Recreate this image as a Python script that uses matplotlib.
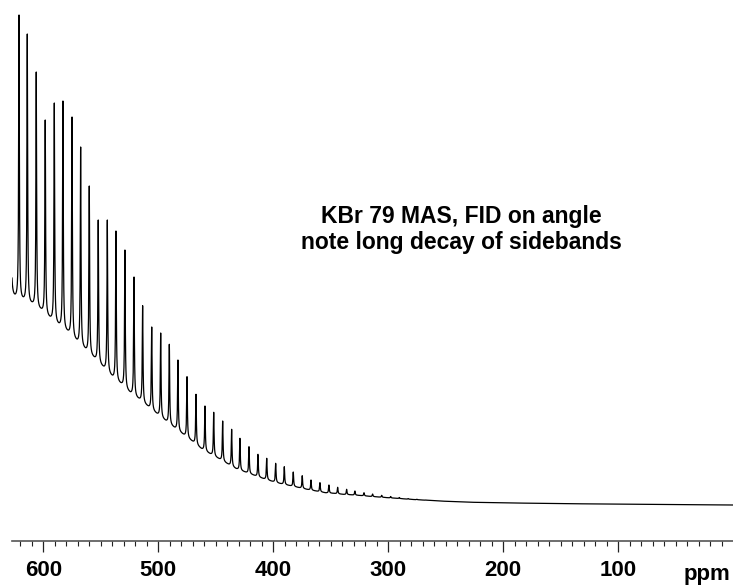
"""Recreates the 79Br MAS spectrum of KBr with its long train of spinning sidebands.

Functions
---------
lorentz
build_spectrum
plot
"""

import numpy as np
import matplotlib.pyplot as plt

# sideband positions (ppm) and apex intensities (a.u.);
# the first one sits just outside the left edge of the plot
peak_ppm = [628.8, 621.1, 613.9, 606.1, 598.3, 590.4, 582.9, 575.0, 567.5, 560.0,
            552.2, 544.3, 536.8, 529.0, 521.1, 513.6, 505.7, 497.9, 490.4, 482.9,
            475.0, 467.2, 459.4, 451.8, 444.0, 436.2, 429.0, 421.1, 413.3, 405.7,
            397.9, 390.4, 382.6, 374.8, 367.2, 359.4, 351.6, 344.0, 336.2, 329.0,
            321.1, 313.6, 305.7, 297.9, 290.4, 282.6, 275.0, 267.2]
peak_top = [690.0, 525.7, 506.7, 468.7, 420.7, 437.7, 439.7, 423.7, 393.7, 354.7,
            320.7, 320.7, 309.7, 290.7, 263.7, 235.0, 213.7, 207.7, 196.4, 180.7,
            164.0, 146.4, 134.7, 128.4, 119.7, 111.4, 102.4, 94.0, 86.4, 82.4,
            77.4, 74.0, 68.7, 65.0, 60.7, 58.0, 55.7, 53.4, 51.4, 49.7,
            48.0, 46.7, 45.4, 44.2, 43.2, 42.2, 41.4, 40.7]

# level of the trace in the troughs between sidebands (ppm, a.u.)
valley_ppm = [626.1, 617.4, 609.6, 602.0, 594.2, 586.3, 578.3, 570.4, 562.9, 555.0,
              547.2, 539.4, 531.6, 524.0, 516.5, 509.0, 501.1, 493.3, 485.5, 477.7,
              469.8, 462.3, 455.0, 447.2, 440.0, 432.4, 424.6, 416.8, 408.7, 401.4,
              394.2, 386.3, 378.3, 370.4, 362.3, 354.4, 346.9, 339.1, 331.6, 323.7,
              315.9, 308.1, 300.3, 292.4, 284.6, 276.8, 269.0, 261.2, 246.7, 220.6,
              159.7, 98.9, 0.3]
valley_level = [250.0, 244.0, 239.0, 232.7, 224.7, 218.0, 210.7, 201.7, 193.0, 184.0,
                174.7, 165.7, 158.2, 149.0, 142.7, 135.2, 127.7, 120.7, 113.7, 106.7,
                99.7, 92.4, 87.4, 82.4, 77.4, 72.4, 69.0, 65.7, 62.4, 59.7,
                57.4, 55.4, 53.4, 51.4, 49.7, 48.0, 47.4, 46.4, 45.9, 45.2,
                44.4, 43.7, 43.0, 42.4, 41.7, 41.1, 40.6, 40.1, 39.2, 38.2,
                37.2, 36.5, 35.7]

major_ticks = [600, 500, 400, 300, 200, 100]
title_lines = ["KBr 79 MAS, FID on angle", "note long decay of sidebands"]
x_range = (627.2, 0.26)
line_width_ppm = 0.35


def lorentz(x, x0, w):
    """Unit-height Lorentzian line."""
    return w ** 2 / ((x - x0) ** 2 + w ** 2)


def build_spectrum():
    """Fits sideband amplitudes and a baseline so the trace passes through the read points."""
    px = np.array(peak_ppm)
    vx = np.array(valley_ppm)
    order = np.argsort(vx)
    vx_sorted = vx[order]
    n_p, n_v = len(px), len(vx)

    def base_weights(points):
        # linear interpolation weights of the baseline nodes at the given points
        eye = np.eye(n_v)[order]
        return np.array([np.interp(points, vx_sorted, eye[:, j]) for j in range(n_v)]).T

    m = np.zeros((n_p + n_v, n_p + n_v))
    m[:n_p, :n_p] = lorentz(px[:, None], px[None, :], line_width_ppm)
    m[:n_p, n_p:] = base_weights(px)
    m[n_p:, :n_p] = lorentz(vx[:, None], px[None, :], line_width_ppm)
    m[n_p:, n_p:] = base_weights(vx)
    rhs = np.concatenate([peak_top, valley_level])
    sol = np.linalg.solve(m, rhs)
    amp, base = sol[:n_p], sol[n_p:]

    x = np.union1d(np.linspace(0, 630, 25001), px)
    y = base_weights(x) @ base + lorentz(x[:, None], px[None, :], line_width_ppm) @ amp
    return x, y


def plot():
    x, y = build_spectrum()

    fig = plt.figure(figsize=(7.33, 5.85), dpi=100)
    ax = fig.add_axes([12 / 733, 44.3 / 585, 1 - 12 / 733, 540.7 / 585])
    ax.plot(x, y, color="black", lw=0.9)
    ax.set_xlim(*x_range)
    ax.set_ylim(0, 540.7)

    for side in ["left", "right", "top"]:
        ax.spines[side].set_visible(False)
    ax.spines["bottom"].set_color("#555555")
    ax.spines["bottom"].set_linewidth(1.2)
    ax.set_yticks([])
    ax.set_xticks(major_ticks)
    ax.set_xticks(np.arange(10, 630, 10), minor=True)
    ax.tick_params(axis="x", which="major", length=8, width=0.9, color="#222222",
                   pad=6, labelsize=16)
    ax.tick_params(axis="x", which="minor", length=3.6, width=0.8, color="#222222")
    for lab in ax.get_xticklabels():
        lab.set_fontfamily("Liberation Sans")
        lab.set_fontweight("bold")

    fig.text(707 / 733, 5 / 585, "ppm", ha="center", va="baseline", fontsize=16,
             fontweight="bold", family="Liberation Sans")
    fig.text(461.5 / 733, 1 - 223.3 / 585, title_lines[0], ha="center", va="baseline",
             fontsize=16.5, fontweight="bold", family="Liberation Sans")
    fig.text(461.5 / 733, 1 - 248.5 / 585, title_lines[1], ha="center", va="baseline",
             fontsize=16.5, fontweight="bold", family="Liberation Sans")

    fig.savefig("out.png", dpi=100)


if __name__ == "__main__":
    plot()
